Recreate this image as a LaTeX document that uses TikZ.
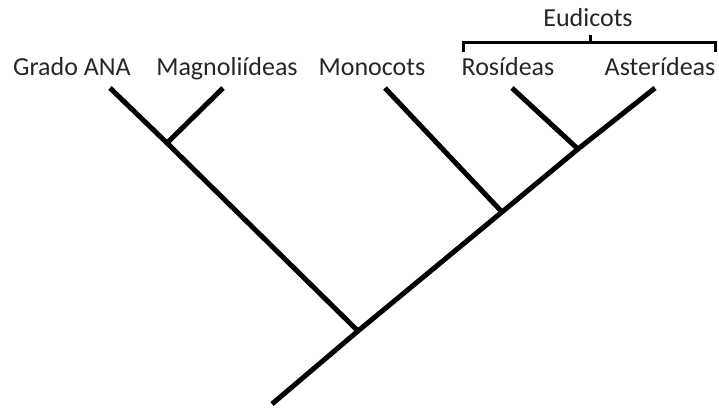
\documentclass[tikz,border=0pt]{standalone}
\usepackage{fontspec}
\setmainfont{Carlito}
\usepackage{tikz}
\usetikzlibrary{positioning,calc}

\begin{document}
\begin{tikzpicture}[
  x=1pt, y=-1pt,
  taxon/.style={anchor=base, inner sep=0pt, font=\fontsize{26}{30}\selectfont, text=black!85},
  branch/.style={line width=5pt, black},
  brace/.style={line width=3pt, black}
]
  \useasboundingbox (0,0) rectangle (719,407);

  % labels
  \node[taxon] (ana) at (72,75) {Grado ANA};
  \node[taxon] (magno) at (227,75) {Magnoliídeas};
  \node[taxon] (mono) at (372,75) {Monocots};
  \node[taxon] (rosid) at (508,75) {Rosídeas};
  \node[taxon] (aster) at (660,75) {Asterídeas};
  \node[taxon] (eudi) at (588,26) {Eudicots};

  % tips and splits
  \coordinate (tana) at (110,88);
  \coordinate (tmagno) at (223,88);
  \coordinate (tmono) at (385,88);
  \coordinate (trosid) at (512,88);
  \coordinate (taster) at (655,88);
  \coordinate (root) at (272,404);
  \coordinate (sA) at (358,331);
  \coordinate (sM) at (502,212);
  \coordinate (sE) at (578,149);
  \coordinate (sG) at (167,143);

  \draw[branch] (root) -- (sA) -- (sM) -- (sE) -- (taster);
  \draw[branch] (sA) -- (sG) -- (tana);
  \draw[branch] (sG) -- (tmagno);
  \draw[branch] (sM) -- (tmono);
  \draw[branch] (sE) -- (trosid);

  % eudicot bracket
  \coordinate (bl) at (463,42);
  \coordinate (br) at (715,42);
  \draw[brace] ($(bl)+(0,10)$) -- (bl) -- (br) -- ++(0,10);
  \draw[brace] (590,42) -- (590,35);
\end{tikzpicture}
\end{document}
